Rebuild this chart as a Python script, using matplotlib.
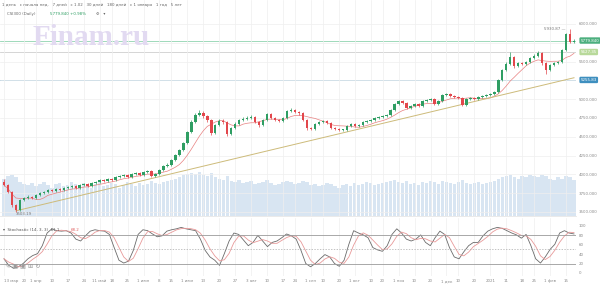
import numpy as np
import pandas as pd
import matplotlib
matplotlib.use("Agg")
import matplotlib.pyplot as plt
from matplotlib.transforms import blended_transform_factory

plt.rcParams["font.family"] = ["DejaVu Sans"]

# ---- data ----
first_open = 3900
closes = [3858, 3765, 3592, 3526, 3659, 3686, 3699, 3686, 3725, 3752, 3765, 3792, 3779, 3805, 3792, 3819,
          3832, 3845, 3819, 3858, 3872, 3845, 3885, 3898, 3925, 3912, 3938, 3925, 3965, 3978, 3992, 3965,
          4005, 4018, 3992, 4031, 4045, 3978, 4005, 4058, 4111, 4124, 4191, 4257, 4324, 4417, 4563, 4696,
          4789, 4816, 4776, 4723, 4550, 4656, 4709, 4696, 4537, 4617, 4670, 4723, 4736, 4750, 4763, 4696,
          4656, 4723, 4803, 4750, 4723, 4709, 4750, 4843, 4856, 4829, 4816, 4723, 4617, 4603, 4670, 4696,
          4709, 4683, 4617, 4603, 4590, 4590, 4643, 4670, 4643, 4656, 4696, 4709, 4723, 4750, 4763, 4776,
          4789, 4856, 4936, 4976, 4949, 4883, 4909, 4936, 4909, 4976, 4989, 5002, 4936, 4976, 5056, 5069,
          5042, 5029, 5016, 4922, 5002, 5016, 5002, 5029, 5042, 5056, 5069, 5095, 5255, 5388, 5468, 5560,
          5441, 5481, 5468, 5494, 5548, 5575, 5614, 5481, 5388, 5455, 5481, 5494, 5654, 5867, 5760, 5780]
highs = [3935, 3870, 3780, 3610, 3670, 3705, 3720, 3715, 3740, 3770, 3785, 3808, 3810, 3822, 3820, 3835,
         3850, 3862, 3858, 3872, 3890, 3885, 3900, 3915, 3940, 3945, 3955, 3952, 3980, 3995, 4010, 4005,
         4020, 4035, 4030, 4048, 4062, 4055, 4020, 4072, 4125, 4145, 4205, 4275, 4340, 4435, 4580, 4720,
         4815, 4853, 4840, 4795, 4735, 4675, 4730, 4735, 4705, 4635, 4690, 4740, 4760, 4772, 4785, 4775,
         4710, 4740, 4820, 4815, 4765, 4740, 4768, 4860, 4878, 4870, 4845, 4825, 4735, 4630, 4685, 4712,
         4728, 4722, 4695, 4632, 4620, 4608, 4660, 4688, 4682, 4675, 4712, 4728, 4740, 4768, 4780, 4795,
         4808, 4872, 4952, 4995, 4990, 4960, 4925, 4952, 4948, 4990, 5008, 5020, 5012, 4992, 5072, 5088,
         5082, 5058, 5045, 5025, 5018, 5035, 5030, 5045, 5060, 5074, 5088, 5115, 5272, 5405, 5490, 5625,
         5575, 5500, 5495, 5512, 5565, 5595, 5640, 5625, 5495, 5472, 5498, 5512, 5672, 5885, 5931, 5800]
lows = [3840, 3750, 3570, 3503, 3515, 3640, 3670, 3668, 3675, 3710, 3738, 3750, 3760, 3765, 3775, 3780,
        3805, 3818, 3800, 3808, 3845, 3830, 3835, 3870, 3885, 3898, 3900, 3910, 3915, 3950, 3962, 3950,
        3955, 3990, 3975, 3980, 4018, 3960, 3965, 3995, 4045, 4095, 4115, 4180, 4245, 4310, 4405, 4550,
        4680, 4770, 4750, 4700, 4525, 4540, 4640, 4670, 4510, 4525, 4600, 4655, 4705, 4720, 4735, 4680,
        4630, 4645, 4710, 4735, 4705, 4690, 4695, 4740, 4830, 4810, 4795, 4705, 4595, 4585, 4590, 4655,
        4680, 4665, 4600, 4585, 4572, 4575, 4580, 4630, 4628, 4630, 4645, 4685, 4695, 4710, 4738, 4750,
        4762, 4778, 4845, 4920, 4932, 4865, 4870, 4895, 4892, 4898, 4962, 4975, 4918, 4925, 4965, 5040,
        5025, 5012, 5000, 4905, 4910, 4990, 4985, 4990, 5015, 5030, 5042, 5055, 5085, 5240, 5375, 5450,
        5420, 5425, 5450, 5452, 5480, 5530, 5560, 5460, 5340, 5375, 5440, 5468, 5485, 5640, 5745, 5745]
volumes = [3.3, 3.5, 3.6, 3.4, 3.0, 2.8, 2.7, 2.9, 2.6, 2.8, 3.0, 2.7, 2.5, 2.8, 2.9, 2.6,
           2.7, 3.0, 2.8, 2.6, 2.9, 2.7, 2.5, 2.8, 3.0, 2.6, 2.7, 2.9, 2.8, 2.5, 2.7, 3.0,
           2.8, 2.6, 2.9, 2.7, 2.8, 3.1, 2.9, 2.8, 3.0, 3.1, 3.2, 3.3, 3.4, 3.6, 3.7, 3.8,
           3.7, 3.9, 3.6, 3.5, 3.8, 3.4, 3.3, 3.2, 3.5, 3.1, 3.0, 3.2, 2.9, 3.0, 3.1, 2.8,
           2.9, 3.0, 3.2, 2.9, 2.7, 2.8, 3.0, 3.1, 3.0, 2.8, 2.9, 3.1, 3.0, 2.7, 2.8, 2.6,
           2.7, 2.9, 2.8, 2.6, 2.5, 2.7, 2.8, 2.6, 2.9, 2.7, 2.8, 3.0, 2.9, 2.7, 2.8, 2.9,
           3.0, 3.1, 3.2, 3.0, 2.9, 3.1, 2.8, 2.9, 2.7, 3.0, 2.9, 3.1, 3.0, 2.8, 3.1, 3.0,
           2.9, 2.8, 3.0, 3.2, 2.9, 2.8, 2.9, 3.0, 2.8, 2.9, 3.0, 3.1, 3.3, 3.4, 3.5, 3.6,
           3.4, 3.3, 3.5, 3.4, 3.6, 3.5, 3.4, 3.6, 3.5, 3.3, 3.2, 3.4, 3.3, 3.5, 3.4, 3.2]

stoch_k = [30, 16, 10, 13, 20, 30, 37, 41, 58, 85, 94, 90, 89, 90, 85, 72, 68, 79, 89, 92, 90, 89, 82,
           54, 27, 21, 25, 48, 82, 92, 90, 83, 77, 79, 89, 92, 94, 97, 94, 92, 90, 72, 48, 34, 27, 16,
           41, 68, 85, 82, 70, 58, 65, 80, 68, 56, 65, 68, 75, 83, 79,
           72, 48, 20, 13, 20, 30, 39, 34, 20, 14, 27, 61, 90, 85, 81, 75, 54, 49, 46, 58, 82, 94, 85,
           72, 68, 72, 81, 65, 58, 75, 89, 82, 54, 34, 30, 45, 58, 65, 65, 79, 89, 94, 97, 95, 90, 85,
           81, 74, 82, 58, 30, 21, 34, 50, 61, 85, 90, 85, 83]

date_labels = ["13 мар", "20", "1 апр", "10", "17", "24", "11 май", "18", "25", "1 июн", "8", "15",
               "1 июл", "13", "20", "27", "3 авг", "10", "17", "24", "1 сен", "10", "20", "1 окт",
               "10", "20", "1 ноя", "10", "20", "1 дек", "10", "20", "2021", "11", "18", "25",
               "1 фев", "15"]
label_idx = [0, 5, 8, 12, 16, 20, 24, 27, 31, 35, 39, 42, 46, 50, 54, 58, 62, 66, 70, 73, 77, 80,
             84, 88, 92, 95, 99, 103, 107, 111, 114, 118, 122, 126, 130, 133, 137, 141]

last_price = 5779.84
level_mid = 5627.35
level_low = 5255.83
trend_idx = [3, 143]
trend_val = [3515, 5285]
price_ticks = [3500, 3750, 4000, 4250, 4500, 4750, 5000, 5250, 5500, 5750, 6000]
hidden_ticks = [5250, 5750]  # covered by the price tags in the original

# ---- figure ----
GREEN, RED = "#2f9e63", "#e2474c"
GRID = "#efefef"
TXT = "#8a8a8a"
FS = 2.9

closes = np.array(closes, float)
opens = np.r_[first_open, closes[:-1]]
highs = np.array(highs, float)
lows = np.array(lows, float)
x = np.arange(len(closes))

fig = plt.figure(figsize=(6, 2.85), dpi=100)
ax = fig.add_axes([0, 0.242, 0.96, 0.758])
axs = fig.add_axes([0, 0.032, 0.96, 0.203], sharex=ax)
axv = ax.twinx()
ax.set_zorder(axv.get_zorder() + 1)
ax.patch.set_visible(False)

# volume
axv.bar(x, volumes, width=0.85, color="#d8e5f2", linewidth=0)
axv.set_ylim(0, 19)
axv.axis("off")

# candles
up = closes >= opens
col = np.where(up, GREEN, RED)
ax.vlines(x, np.minimum(lows, np.minimum(opens, closes)), np.maximum(highs, np.maximum(opens, closes)),
          color=col, lw=0.5, zorder=3)
body = np.maximum(np.abs(closes - opens), 8)
ax.bar(x, body, bottom=np.minimum(opens, closes), width=0.62, color=col, linewidth=0, zorder=4)

ma = pd.Series(closes).rolling(8, min_periods=1).mean()
ax.plot(x, ma, color="#e88080", lw=0.5, zorder=2)
ax.plot(trend_idx, trend_val, color="#cdbb7a", lw=0.7, zorder=2)

ax.axhline(last_price, color="#8fd3b0", lw=0.6, zorder=1)
ax.axhline(level_mid, color="#cfcfcf", lw=0.6, zorder=1)
ax.axhline(level_low, color="#8fbcd8", lw=0.7, zorder=1)

ax.set_xlim(-1, len(x) - 0.5)
ax.set_ylim(3446, 6319)
ax.yaxis.tick_right()
ax.set_yticks(price_ticks)
ax.set_yticklabels(["" if v in hidden_ticks else f"{v:.3f}" for v in price_ticks])
ax.tick_params(axis="y", length=0, pad=2, labelsize=FS, labelcolor=TXT)
ax.tick_params(axis="x", length=0, labelbottom=False)
ax.set_xticks(label_idx)
ax.grid(True, color=GRID, lw=0.5)
for s in ax.spines.values():
    s.set_visible(False)
ax.spines["bottom"].set_visible(True)
ax.spines["bottom"].set_color("#e6e6e6")
ax.spines["bottom"].set_linewidth(0.6)

tr = blended_transform_factory(ax.transAxes, ax.transData)
for val, fc in ((last_price, "#4caf7e"), (level_mid, "#b8d99a"), (level_low, "#3e8fbf")):
    ax.text(1.008, val, f"{val:.3f}" if val == last_price else f"{val:.2f}", transform=tr,
            fontsize=FS, color="white", va="center", ha="left", clip_on=False, zorder=10,
            bbox=dict(boxstyle="round,pad=0.3", fc=fc, ec="none"))

ax.text(x[-2] - 1.2, highs[-2], f"{highs[-2] - 0.13:.2f} —", fontsize=FS, color="#777777",
        ha="right", va="center", zorder=6)
ax.text(x[3], lows[3] - 10, f"{lows[3] + 0.19:.2f}", fontsize=2.8, color="#777777",
        ha="left", va="top", zorder=6)

# stochastic
sx = np.linspace(0, len(x) - 1, len(stoch_k))
axs.plot(sx, stoch_k, color="#6b6b6b", lw=0.6)
stoch_d = pd.Series(stoch_k, dtype=float).rolling(3, min_periods=1).mean()
axs.plot(sx, stoch_d, color="#e89a9a", lw=0.6)
axs.axhline(80, color="#9a9a9a", lw=0.6)
axs.axhline(20, color="#9a9a9a", lw=0.6)
axs.axhline(50, color="#aaaaaa", lw=0.5, ls=(0, (2, 2)))
axs.set_ylim(-6.4, 117)
axs.yaxis.tick_right()
axs.set_yticks([0, 20, 40, 60, 80, 100])
axs.tick_params(axis="y", length=0, pad=2, labelsize=FS, labelcolor=TXT)
axs.set_xticks(label_idx)
axs.set_xticklabels(date_labels, va="baseline")
axs.get_xticklabels()[0].set_horizontalalignment("left")
axs.tick_params(axis="x", length=0, pad=4.5, labelsize=FS, labelcolor=TXT)
axs.grid(True, axis="x", color=GRID, lw=0.5)
for s in axs.spines.values():
    s.set_visible(False)
axs.text(0.006, 0.8, "▾  Stochastic (14, 3, 3)  61.1", transform=axs.transAxes, fontsize=FS,
         color="#555555", va="center")
axs.text(0.122, 0.8, "68.2", transform=axs.transAxes, fontsize=FS, color="#e06060", va="center")
axs.text(0.008, 0.17, "✎ ▣ ▣ ⊞ ↻", transform=axs.transAxes, fontsize=4.5, color="#9a9a9a",
         va="center")

# header
fig.text(0.004, 0.982, "1 день   с начала нед.   7 дней   с 1.02   30 дней   180 дней   с 1 января   1 год   5 лет",
         fontsize=FS, color="#666666", va="center")
fig.text(0.012, 0.95, "CSI300 (Daily)", fontsize=FS, color="#666666", va="center")
fig.text(0.083, 0.95, "5779.840 +0.98%", fontsize=FS, color="#2f9e63", va="center")
fig.text(0.16, 0.95, "⚙   ▾", fontsize=FS, color="#666666", va="center")
fig.text(0.055, 0.868, "Finam.ru", fontsize=21, fontweight="bold", family="Liberation Serif",
         color="#e2daf1", va="center")

fig.savefig("out.png", dpi=100)
